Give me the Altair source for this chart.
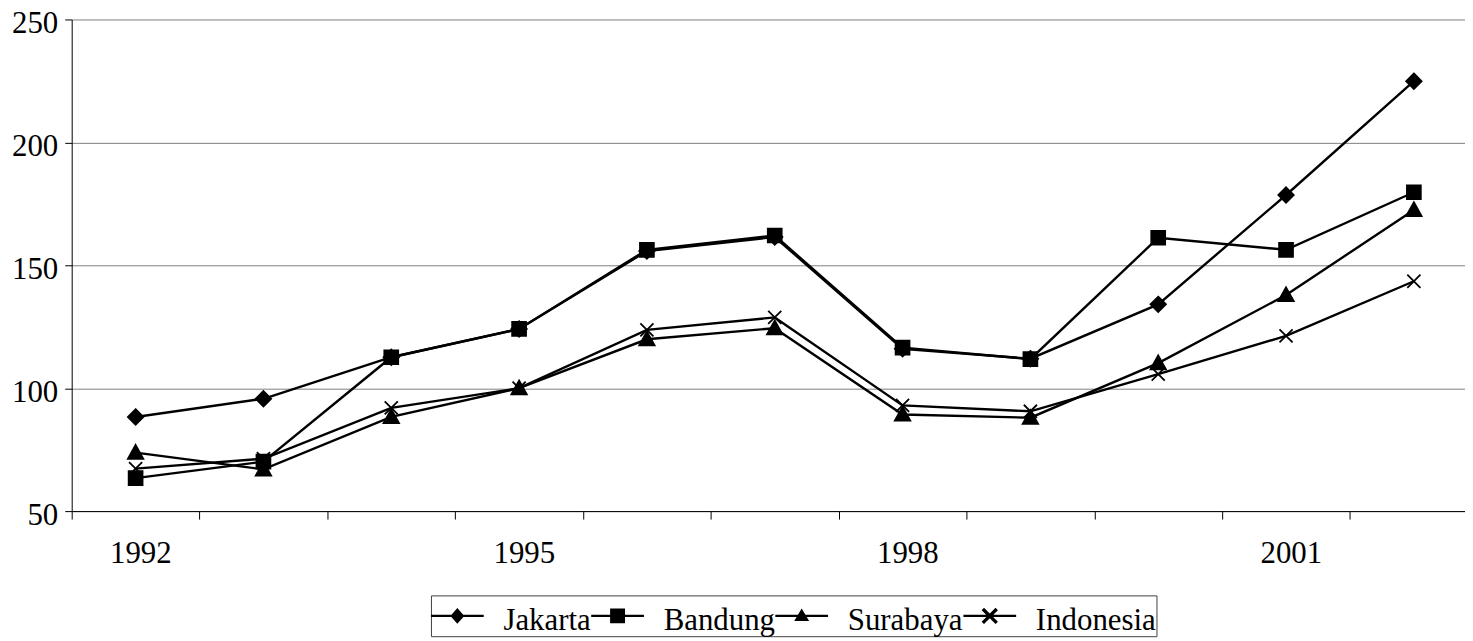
import altair as alt
import pandas as pd

years = [1992, 1993, 1994, 1995, 1996, 1997, 1998, 1999, 2000, 2001, 2002]
series_names = ["Jakarta", "Bandung", "Surabaya", "Indonesia"]
jakarta = [88.3, 95.7, 112.6, 124.1, 155.8, 161.5, 116.0, 112.0, 134.1, 178.6, 224.9]
bandung = [63.4, 70.1, 112.6, 124.1, 156.3, 162.1, 116.5, 111.8, 161.2, 156.3, 179.7]
surabaya = [73.8, 67.0, 88.3, 100.0, 119.9, 124.4, 89.3, 88.0, 110.2, 137.9, 172.5]
indonesia = [67.3, 71.3, 92.0, 100.0, 123.7, 128.8, 93.0, 90.6, 105.7, 121.3, 143.5]
y_ticks = [50, 100, 150, 200, 250]
x_label_years = [1992, 1995, 1998, 2001]

rows = []
for name, vals in zip(series_names, [jakarta, bandung, surabaya, indonesia]):
    for yr, v in zip(years, vals):
        rows.append({"year": yr, "value": v, "series": name})
df = pd.DataFrame(rows)

FONT = "Liberation Serif"

# data markers (unit coordinates, scaled by sqrt(size)/2)
marker_paths = [
    "M0,-1L1,0L0,1L-1,0Z",
    "M-0.9,-0.9H0.9V0.9H-0.9Z",
    "M0,-1L1,0.8L-1,0.8Z",
    "M-0.85,-0.85L0.85,0.85M-0.85,0.85L0.85,-0.85",
]

# legend symbols: a line with the marker on it, drawn as filled geometry
LEG_SIZE = 2704  # sqrt = 52 px
R = (LEG_SIZE ** 0.5) / 2.0  # pixels per unit


def u(px):
    return round(px / R, 4)


DY = -5.4  # symbol drawn a little above the label centre


def p(x, y):
    return f"{u(x)},{u(y + DY)}"


line_part = f"M{p(-26.5, -1.1)}L{p(26.5, -1.1)}L{p(26.5, 1.1)}L{p(-26.5, 1.1)}Z"
diamond = f"M{p(0, -8)}L{p(7, 0)}L{p(0, 8)}L{p(-7, 0)}Z"
square = f"M{p(-7.5, -7.5)}L{p(7.5, -7.5)}L{p(7.5, 7.5)}L{p(-7.5, 7.5)}Z"
triangle = f"M{p(0, -7.5)}L{p(7.5, 5)}L{p(-7.5, 5)}Z"
a, t = 7.0, 1.2
cross = (
    f"M{p(-a + t, -a - t)}L{p(a + t, a - t)}L{p(a - t, a + t)}L{p(-a - t, -a + t)}Z"
    f"M{p(a - t, -a - t)}L{p(a + t, -a + t)}L{p(-a + t, a + t)}L{p(-a - t, a - t)}Z"
)
legend_paths = [line_part + m for m in (diamond, square, triangle, cross)]

tick_positions = [y - 0.5 for y in years]
label_list = ",".join(str(v) for v in x_label_years)

x_scale = alt.Scale(domain=[1991.5, 2002.4], nice=False, zero=False)
y_scale = alt.Scale(domain=[50, 250], nice=False, zero=False)

x_axis = alt.Axis(
    values=tick_positions,
    labelExpr=f"indexof([{label_list}], datum.value + 0.5) >= 0 ? toString(datum.value + 0.5) : ''",
    labelOffset=69,
    labelFlush=False,
    labelOverlap=False,
    labelAlign="center",
    labelBaseline="top",
    grid=False,
    tickSize=8,
    labelPadding=20,
    title=None,
)
y_axis = alt.Axis(
    values=y_ticks,
    grid=True,
    gridColor="#808080",
    gridWidth=1,
    tickSize=7,
    labelPadding=7,
    labelOffset=4,
    labelBaseline="middle",
    title=None,
)

base = alt.Chart(df)

lines = base.mark_line(color="black", strokeWidth=2.4).encode(
    x=alt.X("year:Q", scale=x_scale, axis=x_axis),
    y=alt.Y("value:Q", scale=y_scale, axis=y_axis),
    detail="series:N",
)

points = base.mark_point(
    filled=True, fill="black", stroke="black", strokeWidth=1.8, size=240, opacity=1
).encode(
    x=alt.X("year:Q", scale=x_scale),
    y=alt.Y("value:Q", scale=y_scale),
    shape=alt.Shape(
        "series:N",
        scale=alt.Scale(domain=series_names, range=marker_paths),
        legend=None,
    ),
)

legend_layer = base.transform_filter("false").mark_point(
    filled=True, fill="black", strokeWidth=0, size=LEG_SIZE, opacity=1
).encode(
    x=alt.X("year:Q", scale=x_scale),
    y=alt.Y("value:Q", scale=y_scale),
    shape=alt.Shape(
        "series:N",
        scale=alt.Scale(domain=series_names, range=legend_paths),
        title=None,
        legend=alt.Legend(
            orient="none",
            legendX=361,
            legendY=578.7,
            direction="horizontal",
            columns=4,
            columnPadding=0,
            symbolOffset=0.5,
            labelOffset=20.3,
            padding=0,
            strokeColor="#404040",
            symbolSize=LEG_SIZE,
            symbolStrokeWidth=0,
            symbolFillColor="black",
            labelFont=FONT,
            labelFontSize=31,
            labelColor="black",
            labelLimit=300,
        ),
    ),
)

chart = (
    alt.layer(lines, points, legend_layer)
    .resolve_scale(shape="independent")
    .properties(
        width=1400,
        height=494,
        padding={"left": 64, "top": 10, "right": 0, "bottom": 129},
        autosize=alt.AutoSizeParams(type="none"),
    )
    .configure_view(stroke="transparent")
    .configure_axis(
        labelFont=FONT,
        labelFontSize=31,
        labelColor="black",
        domainColor="black",
        tickColor="black",
        domainWidth=1,
        tickWidth=1,
    )
)

chart.save("out.html", embed_options={"renderer": "svg", "actions": False})
